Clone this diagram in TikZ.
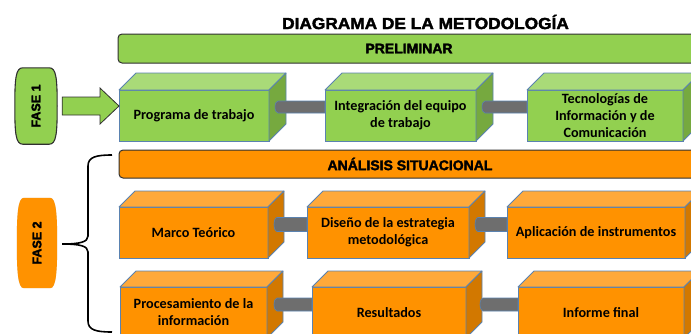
\documentclass[tikz,border=0pt]{standalone}
\usepackage{fontspec}
\setmainfont{Carlito}
\newfontfamily\headfont[RawFeature={embolden=2.2}]{Liberation Sans Bold}
\usetikzlibrary{calc}
\definecolor{gfront}{HTML}{92D050}
\definecolor{gtop}{HTML}{A9DA78}
\definecolor{gside}{HTML}{76A93F}
\definecolor{ofront}{HTML}{FF9200}
\definecolor{otop}{HTML}{FFA93A}
\definecolor{oside}{HTML}{D27800}
\definecolor{edge}{HTML}{5A82B0}
\definecolor{conngray}{HTML}{6E6E6E}
\definecolor{barline}{HTML}{303030}
\tikzset{
  frontbox/.style={draw=edge, line width=0.8pt, anchor=north west, outer sep=0pt,
    minimum height=51, align=center, inner sep=2pt,
    font=\bfseries\fontsize{14.2}{17}\selectfont},
  facestyle/.style={draw=edge, line width=0.8pt, line join=round},
  conn/.style={fill=conngray, draw=edge, line width=0.6pt},
  headbar/.style={draw=barline, line width=1pt, rounded corners=4pt, anchor=north west,
    outer sep=0pt, font=\headfont\fontsize{14}{16}\selectfont},
  pilltext/.style={rotate=90, font=\headfont\fontsize{12.5}{14}\selectfont},
}
% #1 node, #2 top colour, #3 side colour, #4 depth
\newcommand\cubefaces[4]{%
  \draw[facestyle, fill=#2] (#1.north west) -- ++(#4,-#4) -- ($(#1.north east)+(#4,-#4)$) -- (#1.north east) -- cycle;
  \draw[facestyle, fill=#3] (#1.north east) -- ++(#4,-#4) -- ($(#1.south east)+(#4,-#4)$) -- (#1.south east) -- cycle;}
% #1 left node, #2 right node, #3 half depth, #4 gap, #5 half height
\newcommand\linkbar[5]{%
  \path ($(#1.east)+(#4,-#3)$) coordinate (#1L) ($(#2.west)+(0,-#3)$) coordinate (#2R);
  \draw[conn] ($(#1L)+(3,-#5)$) -- ($(#2R)+(0,-#5)$) -- ($(#2R)+(0,#5)$) -- ($(#1L)+(3,#5)$)
    arc[start angle=90, end angle=270, x radius=3, y radius=#5] -- cycle;}
% #1 node, #2 style, #3 flat inset
\newcommand\pillshape[3]{%
  \path[#2] ($(#1.north west)+(#3,0)$) -- ($(#1.north east)+(-#3,0)$)
    .. controls ($(#1.north east)+(-1,0)$) and ($(#1.east)+(0,-28)$) .. (#1.east)
    .. controls ($(#1.east)+(0,28)$) and ($(#1.south east)+(-1,0)$) .. ($(#1.south east)+(-#3,0)$)
    -- ($(#1.south west)+(#3,0)$)
    .. controls ($(#1.south west)+(1,0)$) and ($(#1.west)+(0,28)$) .. (#1.west)
    .. controls ($(#1.west)+(0,-28)$) and ($(#1.north west)+(1,0)$) .. ($(#1.north west)+(#3,0)$) -- cycle;}
\begin{document}
\begin{tikzpicture}[x=1pt,y=-1pt]
\useasboundingbox (0,0) rectangle (691,333);
\begin{scope}
\clip (0,0) rectangle (691,333);

% title
\node[font=\headfont\fontsize{16}{18}\selectfont] (title) at (425.5,22)
  {\scalebox{1.08}[1]{DIAGRAMA DE LA METODOLOGÍA}};

% bars
\node[headbar, fill=gfront, minimum width=582, minimum height=29] (pre) at (118,34) {PRELIMINAR};
\node[headbar, fill=ofront, minimum width=582, minimum height=28] (ana) at (119,150) {ANÁLISIS SITUACIONAL};

% FASE 1
\node[minimum width=42, minimum height=76, inner sep=0pt] (f1) at (36,106) {};
\pillshape{f1}{draw=barline, line width=1.1pt, fill=gfront}{8}
\node[pilltext] (f1t) at (f1.center) {FASE 1};

% FASE 2
\node[minimum width=40, minimum height=90, inner sep=0pt] (f2) at (37,243) {};
\pillshape{f2}{fill=black!25, opacity=0.6, shift={(2,2)}}{7}
\pillshape{f2}{fill=ofront}{7}
\node[pilltext] (f2t) at (f2.center) {FASE 2};

% row 1
\node[frontbox, fill=gfront, minimum width=150] (p1) at (119,90) {Programa de trabajo};
\node[frontbox, fill=gfront, minimum width=151] (p2) at (325,90) {Integración del equipo\\de trabajo};
\node[frontbox, fill=gfront, minimum width=156] (p3) at (527,90) {Tecnologías de\\Información y de\\Comunicación};
\cubefaces{p1}{gtop}{gside}{17}
\cubefaces{p2}{gtop}{gside}{17}
\cubefaces{p3}{gtop}{gside}{17}
\linkbar{p1}{p2}{8.5}{6}{6}
\linkbar{p2}{p3}{8.5}{6}{6}

% arrow FASE 1 -> Programa de trabajo
\coordinate (atip) at (p1.west |- f1.east);
\draw[fill=gfront, draw=barline, line width=0.8pt, line join=miter]
  ($(f1.east)+(5,-9)$) -- ($(atip)+(-19,-9)$) -- ($(atip)+(-19,-18)$) -- (atip)
  -- ($(atip)+(-19,18)$) -- ($(atip)+(-19,9)$) -- ($(f1.east)+(5,9)$) -- cycle;

% row 2
\node[frontbox, fill=ofront, minimum width=149] (m1) at (119,207) {Marco Teórico};
\node[frontbox, fill=ofront, minimum width=162] (m2) at (307,207) {Diseño de la estrategia\\metodológica};
\node[frontbox, fill=ofront, minimum width=178] (m3) at (507,207) {Aplicación de instrumentos};
\cubefaces{m1}{otop}{oside}{16}
\cubefaces{m2}{otop}{oside}{16}
\cubefaces{m3}{otop}{oside}{16}
\linkbar{m1}{m2}{8}{6}{7}
\linkbar{m2}{m3}{8}{6}{7}

% row 3
\node[frontbox, fill=ofront, minimum width=147] (r1) at (120,287) {Procesamiento de la\\información};
\node[frontbox, fill=ofront, minimum width=154] (r2) at (312,287) {Resultados};
\node[frontbox, fill=ofront, minimum width=166] (r3) at (518,287) {Informe final};
\cubefaces{r1}{otop}{oside}{16}
\cubefaces{r2}{otop}{oside}{16}
\cubefaces{r3}{otop}{oside}{16}
\linkbar{r1}{r2}{8}{7}{6.5}
\linkbar{r2}{r3}{8}{14}{6.5}

% brace
\coordinate (btop) at (112,155);
\coordinate (bbot) at (112,332);
\coordinate (btip) at ($(f2.east)+(5,1)$);
\draw[line width=1.6pt, black]
  (btop) .. controls (96,155) and (88,157) .. (88,166) -- (88,236)
  .. controls (88,242) and (80,244) .. (btip)
  .. controls (80,244) and (88,246) .. (88,252) -- (88,321)
  .. controls (88,330) and (96,332) .. (bbot);
\end{scope}
\end{tikzpicture}
\end{document}
